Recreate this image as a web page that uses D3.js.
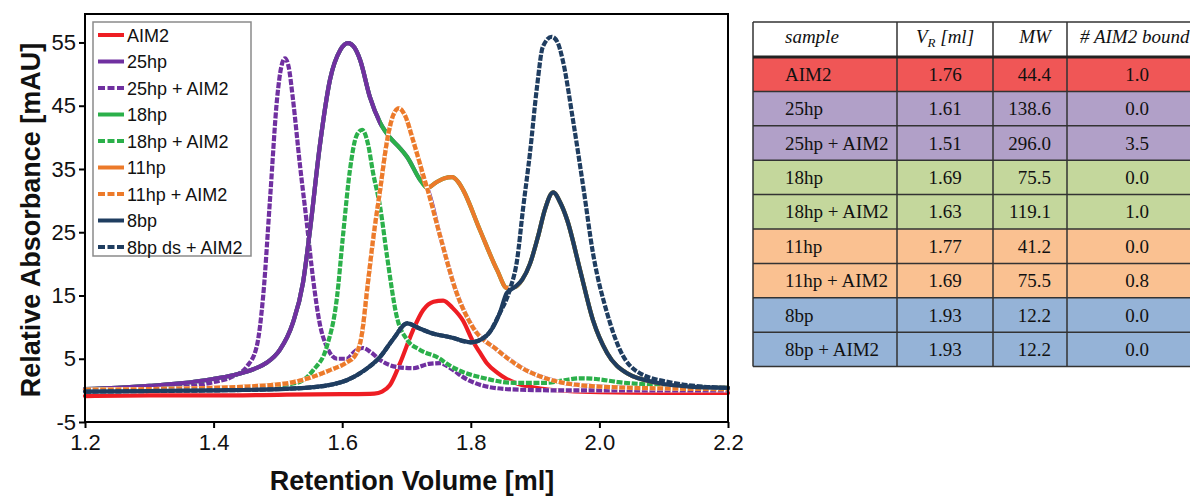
<!DOCTYPE html>
<html>
<head>
<meta charset="utf-8">
<script src="https://cdn.jsdelivr.net/npm/d3@7"></script>
<style>
  body { margin: 0; background: #fff; }
  svg { display: block; }
</style>
</head>
<body>
<div id="chart"></div>
<script>
///////////////////// Chromatogram data (volume [ml], absorbance [mAU]) ////////////////////////
var aim2 = [[1.20,-0.9],[1.30,-0.8],[1.40,-0.8],[1.50,-0.7],[1.60,-0.6],[1.650,-0.5],[1.662,-0.2],[1.674,0.8],
            [1.690,4.3],[1.710,9.5],[1.726,12.7],[1.742,14.0],[1.757,14.2],[1.772,13.0],[1.788,11.0],[1.803,7.8],
            [1.814,6.0],[1.825,4.3],[1.841,2.8],[1.856,1.8],[1.872,1.1],[1.908,0.3],[1.95,-0.1],[2.00,-0.3],
            [2.10,-0.4],[2.20,-0.4]];

var hp25 = [[1.20,0.2],[1.25,0.4],[1.30,0.7],[1.348,1.1],[1.399,1.8],[1.43,2.4],[1.452,3.0],[1.468,3.6],
            [1.483,4.4],[1.503,6.4],[1.523,10.6],[1.539,17.0],[1.550,25.4],[1.565,38.5],[1.581,49.1],
            [1.597,53.8],[1.609,54.9],[1.619,54.2],[1.628,52.2],[1.643,46.4],[1.659,42.3],[1.674,40.0],
            [1.688,38.5],[1.701,36.9],[1.721,33.3],[1.732,32.0],[1.752,24.5],[1.778,15.4],[1.803,10.0],
            [1.841,6.4],[1.877,3.7],[1.939,1.3],[2.00,0.6],[2.10,0.3],[2.20,0.2]];

var hp25AIM2 = [[1.20,0.1],[1.30,0.3],[1.348,0.5],[1.399,1.3],[1.43,2.2],[1.452,3.8],[1.467,6.9],[1.477,14.8],
                [1.488,30.6],[1.499,46.4],[1.505,51.0],[1.511,52.5],[1.517,51.0],[1.523,46.4],[1.534,35.9],
                [1.545,26.4],[1.555,17.4],[1.565,10.6],[1.576,6.9],[1.592,5.0],[1.607,5.0],[1.620,6.2],
                [1.632,6.7],[1.645,6.0],[1.659,4.8],[1.685,3.7],[1.710,3.5],[1.735,4.2],[1.752,4.3],
                [1.770,3.4],[1.788,2.1],[1.830,0.5],[1.877,0.1],[1.95,0.0],[2.10,0.0],[2.20,0.0]];

var hp18 = [[1.20,0.2],[1.25,0.4],[1.30,0.7],[1.348,1.1],[1.399,1.8],[1.43,2.4],[1.452,3.0],[1.468,3.6],
            [1.483,4.4],[1.503,6.4],[1.523,10.6],[1.539,17.0],[1.550,25.4],[1.565,38.5],[1.581,49.1],
            [1.597,53.8],[1.609,54.9],[1.619,54.2],[1.628,52.2],[1.643,46.4],[1.659,42.3],[1.674,40.0],
            [1.688,38.5],[1.701,36.9],[1.721,33.3],[1.732,32.0],[1.745,32.8],[1.758,33.5],[1.771,33.7],
            [1.780,33.0],[1.788,31.7],[1.814,25.4],[1.841,19.0],[1.856,16.2],[1.868,16.3],[1.880,17.5],
            [1.892,20.0],[1.905,24.5],[1.915,28.5],[1.928,31.3],[1.940,29.5],[1.950,26.9],[1.970,19.0],
            [1.990,11.1],[2.012,5.9],[2.043,2.7],[2.090,1.2],[2.14,0.6],[2.20,0.4]];

var hp18AIM2 = [[1.20,0.1],[1.30,0.2],[1.40,0.3],[1.48,0.6],[1.530,1.2],[1.555,3.2],[1.576,6.9],[1.592,14.8],
                [1.601,24.2],[1.612,34.8],[1.622,40.2],[1.631,41.2],[1.640,39.0],[1.648,34.4],[1.659,29.0],
                [1.670,21.0],[1.685,11.6],[1.701,8.0],[1.721,6.4],[1.752,5.0],[1.763,4.2],[1.790,2.8],
                [1.814,2.1],[1.866,1.2],[1.918,1.2],[1.945,1.6],[1.970,1.9],[1.995,1.8],[2.03,1.3],
                [2.10,0.8],[2.20,0.4]];

var hp11 = [[1.20,0.1],[1.30,0.2],[1.40,0.4],[1.452,0.6],[1.519,1.2],[1.55,2.0],[1.581,3.2],[1.605,4.3],
            [1.620,5.5],[1.630,8.5],[1.640,17.0],[1.648,23.8],[1.659,31.7],[1.670,39.6],[1.679,43.4],
            [1.688,44.6],[1.698,43.4],[1.710,39.6],[1.721,35.8],[1.732,32.0],[1.745,32.8],[1.758,33.5],
            [1.771,33.7],[1.780,33.0],[1.788,31.7],[1.814,25.4],[1.841,19.0],[1.856,16.2],[1.868,16.3],
            [1.880,17.5],[1.892,20.0],[1.905,24.5],[1.915,28.5],[1.928,31.3],[1.940,29.5],[1.950,26.9],
            [1.970,19.0],[1.990,11.1],[2.012,5.9],[2.043,2.7],[2.090,1.2],[2.14,0.6],[2.20,0.4]];

var hp11AIM2 = [[1.20,0.1],[1.30,0.2],[1.40,0.4],[1.452,0.6],[1.519,1.2],[1.55,2.0],[1.581,3.2],[1.605,4.3],
                [1.620,5.5],[1.630,8.5],[1.640,17.0],[1.648,23.8],[1.659,31.7],[1.670,39.6],[1.679,43.4],
                [1.688,44.6],[1.698,43.4],[1.710,39.6],[1.721,35.8],[1.732,32.0],[1.752,24.5],[1.778,15.4],
                [1.803,10.0],[1.841,6.4],[1.877,3.7],[1.939,1.3],[2.00,0.6],[2.10,0.3],[2.20,0.2]];

var bp8 = [[1.20,-0.2],[1.30,-0.1],[1.40,0.0],[1.50,0.2],[1.555,0.5],[1.607,1.6],[1.635,3.2],[1.659,5.3],
           [1.680,8.2],[1.701,10.6],[1.720,9.8],[1.737,9.1],[1.768,8.4],[1.800,7.6],[1.825,8.7],[1.845,12.2],
           [1.856,15.4],[1.868,16.3],[1.880,17.5],[1.892,20.0],[1.905,24.5],[1.915,28.5],[1.928,31.3],
           [1.940,29.5],[1.950,26.9],[1.970,19.0],[1.990,11.1],[2.012,5.9],[2.043,2.7],[2.090,1.2],
           [2.14,0.6],[2.20,0.4]];

var bp8dsAIM2 = [[1.20,-0.2],[1.30,-0.1],[1.40,0.0],[1.50,0.2],[1.555,0.5],[1.607,1.6],[1.635,3.2],[1.659,5.3],
                 [1.680,8.2],[1.701,10.6],[1.720,9.8],[1.737,9.1],[1.768,8.4],[1.800,7.6],[1.825,8.7],
                 [1.845,12.2],[1.861,16.0],[1.872,20.6],[1.881,28.5],[1.892,37.5],[1.903,48.0],[1.912,54.3],
                 [1.926,55.9],[1.935,55.0],[1.943,52.2],[1.959,42.7],[1.975,32.1],[1.990,21.7],[2.012,12.2],
                 [2.032,6.4],[2.063,2.7],[2.114,1.2],[2.16,0.6],[2.20,0.4]];

// legend order
var seriesNames  = ["AIM2","25hp","25hp + AIM2","18hp","18hp + AIM2","11hp","11hp + AIM2","8bp","8bp ds + AIM2"];
var seriesData   = [aim2, hp25, hp25AIM2, hp18, hp18AIM2, hp11, hp11AIM2, bp8, bp8dsAIM2];
var seriesColors = ["#ee1d23","#7030a0","#7030a0","#2bb04a","#2bb04a","#ec7a2a","#ec7a2a","#1f3d60","#1f3d60"];
var seriesDashed = [false,false,true,false,true,false,true,false,true];
// drawing order (index into the lists above); -1 = front copy of 25hp left part
var drawOrder = [0,1,2,3,-1,4,5,6,8,7];

var xTicks = [1.2,1.4,1.6,1.8,2.0,2.2];
var yTicks = [-5,5,15,25,35,45,55];

///////////////////// Table data ////////////////////////
var tableSample = ["AIM2","25hp","25hp + AIM2","18hp","18hp + AIM2","11hp","11hp + AIM2","8bp","8bp + AIM2"];
var tableVR     = ["1.76","1.61","1.51","1.69","1.63","1.77","1.69","1.93","1.93"];
var tableMW     = ["44.4","138.6","296.0","75.5","119.1","41.2","75.5","12.2","12.2"];
var tableBound  = ["1.0","0.0","3.5","0.0","1.0","0.0","0.8","0.0","0.0"];
var tableFills  = ["#f05656","#b1a0c8","#b1a0c8","#c4d79c","#c4d79c","#fac191","#fac191","#95b3d7","#95b3d7"];

//////////////////////////////////////////////////////////

var width = 1190, height = 499;
var svg = d3.select("#chart").append("svg")
    .attr("width", width).attr("height", height);

var x = d3.scaleLinear().domain([1.2, 2.2]).range([85, 728]);
var y = d3.scaleLinear().domain([-5, 59.5]).range([422, 14]);

var line = d3.line()
    .x(function (d) { return x(d[0]); })
    .y(function (d) { return y(d[1]); })
    .curve(d3.curveMonotoneX);

// clip used for the front copy of the 25hp trace
svg.append("clipPath").attr("id", "leftClip")
  .append("rect")
    .attr("x", 0).attr("y", 0)
    .attr("width", x(1.659)).attr("height", height);

var plot = svg.append("g");

var drawTrace = function(i, clip) {
    var d = seriesData[i];
    if (seriesDashed[i]) {
        // white under-stroke so the gaps show white
        plot.append("path").attr("d", line(d))
            .attr("fill", "none").attr("stroke", "#fff").attr("stroke-width", 4.2);
    }
    var p = plot.append("path").attr("d", line(d))
        .attr("fill", "none")
        .attr("stroke", seriesColors[i])
        .attr("stroke-width", 4.2)
        .attr("stroke-linejoin", "round");
    if (seriesDashed[i]) p.attr("stroke-dasharray", "6,1.6");
    else p.attr("stroke-linecap", "round");
    if (clip) p.attr("clip-path", "url(#leftClip)");
};

drawOrder.forEach(function (i) {
    if (i < 0) drawTrace(1, true);
    else drawTrace(i, false);
});

// frame
svg.append("rect")
    .attr("x", x(1.2)).attr("y", y(59.5))
    .attr("width", x(2.2) - x(1.2)).attr("height", y(-5) - y(59.5))
    .attr("fill", "none").attr("stroke", "#000").attr("stroke-width", 2);

// axes
var yAxis = svg.append("g")
    .attr("transform", "translate(" + x(1.2) + ",0)")
    .call(d3.axisLeft(y).tickValues(yTicks).tickFormat(function (d) { return String(d); })
          .tickSize(6).tickPadding(3));
var xAxis = svg.append("g")
    .attr("transform", "translate(0," + y(-5) + ")")
    .call(d3.axisBottom(x).tickValues(xTicks).tickFormat(d3.format(".1f")).tickSize(6).tickPadding(6));

[yAxis, xAxis].forEach(function (g) {
    g.select(".domain").remove();
    g.selectAll(".tick line").attr("stroke", "#000").attr("stroke-width", 2);
    g.selectAll(".tick text")
        .attr("fill", "#111")
        .style("font-family", "'Liberation Sans', Arial, sans-serif")
        .style("font-size", "22px");
});

svg.append("text")
    .attr("x", 412).attr("y", 490)
    .attr("text-anchor", "middle")
    .style("font-family", "'Liberation Sans', Arial, sans-serif")
    .style("font-size", "27px").style("font-weight", "bold")
    .attr("fill", "#111")
    .text("Retention Volume [ml]");

svg.append("text")
    .attr("transform", "translate(40,220) rotate(-90)")
    .attr("text-anchor", "middle")
    .style("font-family", "'Liberation Sans', Arial, sans-serif")
    .style("font-size", "27px").style("font-weight", "bold")
    .attr("fill", "#111")
    .text("Relative Absorbance [mAU]");

// legend
var legend = svg.append("g").attr("transform", "translate(93,22)");
legend.append("rect")
    .attr("width", 158).attr("height", 234)
    .attr("fill", "#fff").attr("stroke", "#8a8a8a").attr("stroke-width", 1.5);

seriesNames.forEach(function (name, i) {
    var ly = 13 + i * 26.5;
    legend.append("line")
        .attr("x1", 5).attr("x2", 31).attr("y1", ly).attr("y2", ly)
        .attr("stroke", seriesColors[i]).attr("stroke-width", 4)
        .attr("stroke-dasharray", seriesDashed[i] ? "7,2.5" : null);
    legend.append("text")
        .attr("x", 34).attr("y", ly + 6.5)
        .style("font-family", "'Liberation Sans', Arial, sans-serif")
        .style("font-size", "18px")
        .attr("fill", "#111")
        .text(name);
});

///////////////////// Table ////////////////////////
var colX = [753, 897, 993, 1067, 1196];
var headTop = 22, headBottom = 57, rowH = 34.4;
var table = svg.append("g");
var serif = "'Liberation Serif', 'Times New Roman', serif";

tableSample.forEach(function (s, i) {
    var ry = headBottom + i * rowH;
    table.append("rect")
        .attr("x", colX[0]).attr("y", ry)
        .attr("width", colX[4] - colX[0]).attr("height", rowH)
        .attr("fill", tableFills[i]);
    var ty = ry + rowH / 2 + 6.5;
    table.append("text").attr("x", colX[0] + 32).attr("y", ty).text(s);
    table.append("text").attr("x", 945).attr("y", ty).attr("text-anchor", "middle").text(tableVR[i]);
    table.append("text").attr("x", 1051).attr("y", ty).attr("text-anchor", "end").text(tableMW[i]);
    table.append("text").attr("x", 1137).attr("y", ty).attr("text-anchor", "middle").text(tableBound[i]);
});
table.selectAll("text")
    .style("font-family", serif).style("font-size", "19px").attr("fill", "#111");

var tableBottom = headBottom + tableSample.length * rowH;

// grid lines
for (var i = 1; i < tableSample.length; i++) {
    table.append("line")
        .attr("x1", colX[0]).attr("x2", colX[4])
        .attr("y1", headBottom + i * rowH).attr("y2", headBottom + i * rowH)
        .attr("stroke", "#333").attr("stroke-width", 1.5);
}
colX.slice(0, 4).forEach(function (cx) {
    table.append("line")
        .attr("x1", cx).attr("x2", cx).attr("y1", headTop).attr("y2", tableBottom)
        .attr("stroke", "#333").attr("stroke-width", 1.5);
});
table.append("line").attr("x1", colX[0]).attr("x2", colX[4]).attr("y1", headTop).attr("y2", headTop)
    .attr("stroke", "#333").attr("stroke-width", 1.5);
table.append("line").attr("x1", colX[0]).attr("x2", colX[4]).attr("y1", headBottom).attr("y2", headBottom)
    .attr("stroke", "#222").attr("stroke-width", 3);
table.append("line").attr("x1", colX[0]).attr("x2", colX[4]).attr("y1", tableBottom).attr("y2", tableBottom)
    .attr("stroke", "#333").attr("stroke-width", 1.5);

// header
var head = svg.append("g")
    .style("font-family", serif).style("font-size", "19px").style("font-style", "italic")
    .attr("fill", "#111");
head.append("text").attr("x", 785).attr("y", 43).text("sample");
var vr = head.append("text").attr("x", 945).attr("y", 43).attr("text-anchor", "middle");
vr.append("tspan").text("V");
vr.append("tspan").attr("dy", 4).style("font-size", "13px").text("R");
vr.append("tspan").attr("dy", -4).text(" [ml]");
head.append("text").attr("x", 1035).attr("y", 43).attr("text-anchor", "middle").text("MW");
head.append("text").attr("x", 1080).attr("y", 43).text("# AIM2 bound");
</script>
</body>
</html>
